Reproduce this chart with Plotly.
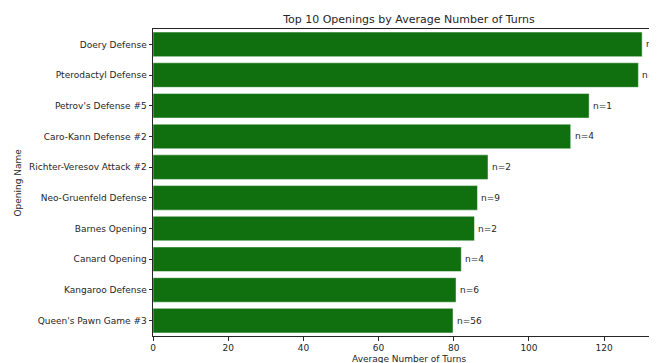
import plotly.graph_objects as go

openings = ["Doery Defense", "Pterodactyl Defense", "Petrov's Defense #5", "Caro-Kann Defense #2",
            "Richter-Veresov Attack #2", "Neo-Gruenfeld Defense", "Barnes Opening", "Canard Opening",
            "Kangaroo Defense", "Queen's Pawn Game #3"]
avg_turns = [130.1, 129.1, 116.0, 111.1, 89.1, 86.3, 85.5, 82.0, 80.6, 79.8]
counts = [1, 1, 1, 4, 2, 9, 2, 4, 6, 56]
x_ticks = [0, 20, 40, 60, 80, 100, 120]

FONT = "DejaVu Sans"
TXT = "#262626"
OFF = 8  # default page body margin
W, H = 657 - OFF, 363 - OFF
L, R_, T, B = 153 - OFF, 0, 29 - OFF, 363 - 336

fig = go.Figure()
fig.add_trace(go.Bar(
    y=openings, x=avg_turns, orientation="h",
    marker=dict(color="rgb(16,112,16)", line=dict(color="rgba(255,255,255,0.6)", width=0.8)),
    width=0.8,
))
for o, v, c in zip(openings, avg_turns, counts):
    fig.add_annotation(x=v, y=o, xref="x", yref="y", text=f"n={c}", showarrow=False,
                       xanchor="left", yanchor="middle", xshift=2,
                       font=dict(family=FONT, size=9, color=TXT))

fig.update_layout(
    width=W, height=H,
    margin=dict(l=L, r=R_, t=T, b=B, pad=0, autoexpand=False),
    paper_bgcolor="white", plot_bgcolor="white",
    showlegend=False,
    font=dict(family=FONT, size=9, color=TXT),
    title=dict(text="Top 10 Openings by Average Number of Turns", x=(409 - OFF) / W, xanchor="center",
               y=1 - (19 - OFF) / H, yanchor="middle", font=dict(family=FONT, size=11, color=TXT)),
)
fig.update_xaxes(
    range=[0, 134.05], tickvals=x_ticks, ticktext=[str(v) for v in x_ticks],
    showgrid=False, zeroline=False, automargin=False,
    showline=True, linecolor=TXT, linewidth=1, mirror=True,
    ticks="outside", ticklen=3.5, tickcolor=TXT, tickwidth=0.8,
    tickfont=dict(family=FONT, size=9, color=TXT),
)
fig.update_yaxes(
    type="category", categoryorder="array", categoryarray=openings,
    range=[9.5, -0.5], autorange=False,
    showgrid=False, zeroline=False, automargin=False,
    showline=True, linecolor=TXT, linewidth=1,
    ticks="outside", ticklen=3.5, tickcolor=TXT, tickwidth=0.8,
    tickfont=dict(family=FONT, size=9, color=TXT),
)
fig.add_annotation(text="Average Number of Turns", xref="paper", yref="paper",
                   x=(409 - 153) / (657 - 153), y=0, yshift=-23, xanchor="center", yanchor="middle",
                   showarrow=False, font=dict(family=FONT, size=9, color=TXT))
fig.add_annotation(text="Opening Name", xref="paper", yref="paper", textangle=-90,
                   x=0, xshift=17 - 153, y=0.5, xanchor="center", yanchor="middle",
                   showarrow=False, font=dict(family=FONT, size=9, color=TXT))

fig.write_html("out.html")
